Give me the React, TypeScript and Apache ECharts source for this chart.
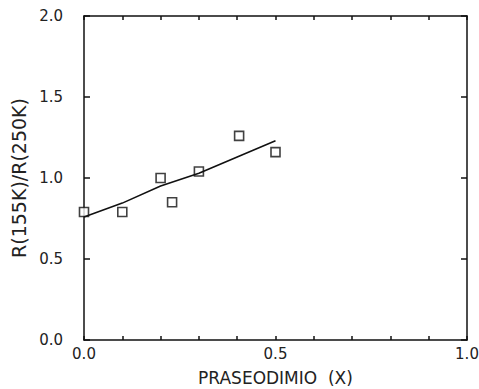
import React, { useEffect, useRef } from "react";
import * as echarts from "echarts";

const xValues = [0.0, 0.1, 0.2, 0.23, 0.3, 0.405, 0.5];
const yValues = [0.79, 0.79, 1.0, 0.85, 1.04, 1.26, 1.16];
const fitX = [0.0, 0.1, 0.2, 0.3, 0.4, 0.5];
const fitY = [0.76, 0.845, 0.95, 1.03, 1.13, 1.23];
const xTickLabels = ["0.0", "0.5", "1.0"];
const xTitle = "PRASEODIMIO  (X)";
const yTitle = "R(155K)/R(250K)";

export default function App() {
  const ref = useRef<HTMLDivElement>(null);
  useEffect(() => {
    document.body.style.margin = "0";
    const chart = echarts.init(ref.current!, undefined, { renderer: "svg" });
    const font = "DejaVu Sans";
    const lineStyle = { color: "#111", width: 1.5 };
    const frameAxis = {
      axisLine: { show: true, onZero: false, lineStyle },
      axisLabel: { show: false },
      splitLine: { show: false },
    };
    chart.setOption({
      animation: false,
      backgroundColor: "#fff",
      grid: { left: 84, right: 12, top: 16, bottom: 49, outerBoundsMode: "none", containLabel: false },
      xAxis: [
        {
          type: "value",
          min: 0,
          max: 1,
          interval: 0.1,
          position: "bottom",
          axisLine: { show: true, onZero: false, lineStyle },
          axisTick: { show: true, inside: true, length: 4, lineStyle },
          splitLine: { show: false },
          axisLabel: {
            margin: 6,
            fontFamily: font,
            fontSize: 15,
            color: "#222",
            formatter: (v: number) => {
              const s = v.toFixed(1);
              return xTickLabels.includes(s) ? s : "";
            },
          },
          name: xTitle,
          nameLocation: "middle",
          nameGap: 29,
          nameTextStyle: { fontFamily: font, fontSize: 17, color: "#222" },
        },
        {
          type: "value",
          min: 0,
          max: 1,
          interval: 0.1,
          position: "top",
          axisTick: { show: true, inside: true, length: 4, lineStyle },
          ...frameAxis,
        },
      ],
      yAxis: [
        {
          type: "value",
          min: 0,
          max: 2,
          interval: 0.5,
          position: "left",
          axisLine: { show: true, onZero: false, lineStyle },
          axisTick: { show: true, inside: true, length: 6, lineStyle },
          splitLine: { show: false },
          axisLabel: {
            margin: 21,
            fontFamily: font,
            fontSize: 15,
            color: "#222",
            formatter: (v: number) => v.toFixed(1),
          },
          name: yTitle,
          nameLocation: "middle",
          nameGap: 54,
          nameRotate: 90,
          nameTextStyle: { fontFamily: font, fontSize: 19, color: "#222" },
        },
        {
          type: "value",
          min: 0,
          max: 2,
          interval: 0.5,
          position: "right",
          axisTick: { show: true, inside: true, length: 6, lineStyle },
          ...frameAxis,
        },
      ],
      series: [
        {
          type: "line",
          data: fitX.map((x, i) => [x, fitY[i]]),
          showSymbol: false,
          symbol: "none",
          lineStyle: { color: "#111", width: 1.6 },
        },
        {
          type: "scatter",
          data: xValues.map((x, i) => [x, yValues[i]]),
          symbol: "rect",
          symbolSize: 9,
          itemStyle: { color: "#fff", borderColor: "#111", borderWidth: 1.6 },
        },
        {
          type: "scatter",
          xAxisIndex: 1,
          yAxisIndex: 1,
          data: [],
        },
      ],
    });
    return () => chart.dispose();
  }, []);
  return <div ref={ref} style={{ width: 479, height: 389 }} />;
}
